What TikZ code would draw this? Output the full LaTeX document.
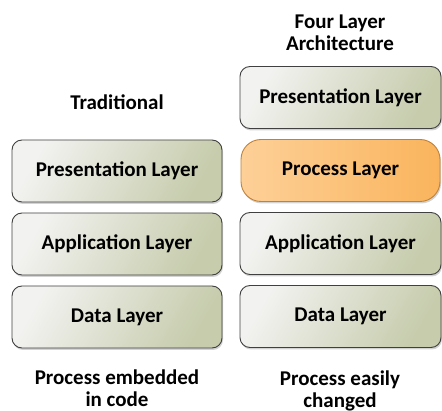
\documentclass[tikz,border=0pt]{standalone}
\usepackage{fontspec}
\setmainfont{Carlito}
\usetikzlibrary{shadows}
\definecolor{layerlight}{RGB}{242,242,240}
\definecolor{layerdark}{RGB}{198,204,172}
\definecolor{proclight}{RGB}{253,208,152}
\definecolor{procdark}{RGB}{250,180,92}
\definecolor{procedge}{RGB}{192,130,58}
\tikzstyle{layer} = [rectangle, rounded corners=10pt, minimum width=210pt, minimum height=62pt, text centered, draw=black!75, line width=0.9pt, top color=layerlight, bottom color=layerdark, shading angle=60, drop shadow={shadow xshift=1pt, shadow yshift=-2pt, opacity=0.35}, font=\bfseries\fontsize{21}{22}\selectfont]
\tikzstyle{procbox} = [layer, rounded corners=20pt, draw=procedge, left color=proclight, right color=procdark]
\tikzstyle{caption} = [align=center, font=\bfseries\fontsize{21}{22}\selectfont]

\begin{document}
\begin{tikzpicture}[x=1pt, y=1pt, node distance=73pt]
\useasboundingbox (0,0) rectangle (442,-411);
% traditional column
\node (trad) [caption] at (117,-102) {Traditional};
\node (pres) [layer] at (117,-171) {Presentation Layer};
\node (app) [layer, below of=pres] {Application Layer};
\node (data) [layer, below of=app] {Data Layer};
\node (embed) [caption] at (117,-388.5) {Process embedded\\in code};
% four layer column
\node (four) [caption] at (340,-32.5) {Four Layer\\Architecture};
\node (pres4) [layer, minimum width=201pt] at (340.5,-97.5) {Presentation Layer};
\node (proc4) [procbox, minimum width=199pt, below of=pres4] {Process Layer};
\node (app4) [layer, minimum width=201pt, below of=proc4] {Application Layer};
\node (data4) [layer, minimum width=201pt, below of=app4] {Data Layer};
\node (changed) [caption] at (340,-390.5) {Process easily\\changed};
\end{tikzpicture}
\end{document}
